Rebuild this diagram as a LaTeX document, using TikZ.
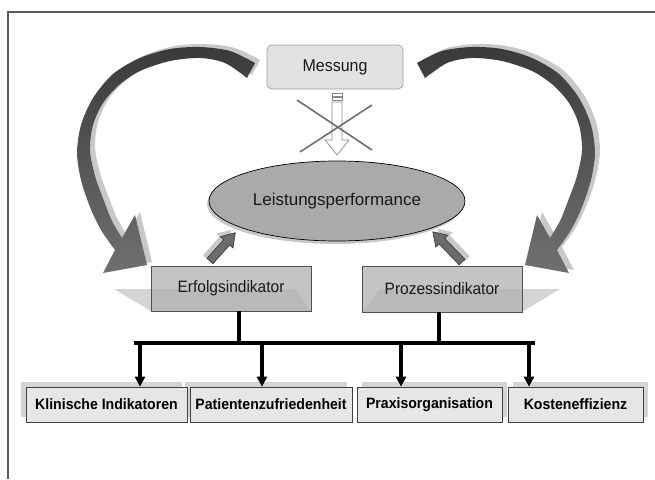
\documentclass[tikz,border=0pt]{standalone}
\usepackage{fontspec}
\setmainfont{Liberation Sans}
\newfontfamily\narrowsans[FakeStretch=0.94]{Liberation Sans}
\usetikzlibrary{shapes.geometric,arrows.meta}
\definecolor{shadowgray}{HTML}{C8C8C8}
\definecolor{boxshadow}{HTML}{D4D4D4}
\definecolor{arcdark}{HTML}{3A3A3A}
\definecolor{arcmid}{HTML}{6A6A6A}
\definecolor{arclow}{HTML}{707070}
\definecolor{framecol}{HTML}{5A5A5A}
\definecolor{messfill}{HTML}{E2E2E2}
\definecolor{messline}{HTML}{A0A0A0}
\definecolor{ellfill}{HTML}{AAAAAA}
\definecolor{indfill}{HTML}{B0B0B0}
\definecolor{indline}{HTML}{505050}
\definecolor{catfill}{HTML}{E6E6E6}
\definecolor{catline}{HTML}{404040}
\definecolor{smallarrow}{HTML}{6C6C6C}
\definecolor{crosscol}{HTML}{6E6E6E}
\definecolor{hollowline}{HTML}{8A8A8A}
\newcommand{\bigarcpath}{plot[smooth] coordinates {(255,63) (230,51) (200,47) (170,49) (140,58) (113,74) (93,98) (81,125) (77,153) (81,180) (90,207) (101,230) (115,250)} -- (103,273) -- (147,265) -- (135,215) -- (122,238) -- plot[smooth] coordinates {(122,238) (112,221) (104,201) (95,176) (90,150) (93,125) (103,103) (119,85) (140,71) (170,61) (200,58) (225,63) (247,78)} -- cycle}
\newcommand{\blockarrowpath}[1]{(0,-4) -- (#1-13,-4) -- (#1-13,-8.5) -- (#1,0) -- (#1-13,8.5) -- (#1-13,4) -- (0,4) -- cycle}
\begin{document}
\begin{tikzpicture}[x=1pt,y=-1pt,
  regtext/.style={font=\narrowsans\fontsize{16.5}{19}\selectfont, text=black!90},
  indbox/.style={draw=indline, line width=0.7pt, fill=indfill, fill opacity=0.75, text opacity=1,
    minimum width=160pt, minimum height=45pt, inner sep=0pt, regtext},
  catbox/.style={draw=catline, line width=0.7pt, fill=catfill, minimum height=35pt, inner sep=0pt,
    font=\narrowsans\bfseries\fontsize{15}{18}\selectfont},
  catshadow/.style={fill=boxshadow},
  conn/.style={line width=3.6pt, black},
  connshadow/.style={line width=3.6pt, shadowgray},
  downtip/.style={-{Triangle[length=10pt,width=10pt]}},
  hollow/.style={draw=hollowline, line width=0.7pt, fill=white},
  crossout/.style={draw=crosscol, line width=1.6pt},
  smallarr/.style={fill=smallarrow, draw=black!80, line width=0.6pt},
]
\useasboundingbox (0,0) rectangle (655,479);
% frame
\draw[framecol, line width=1.2pt] (8,479) -- (8,12) -- (655,12);

% big curved arrows: shadows
\fill[shadowgray, shift={(5,-3)}] \bigarcpath;
\begin{scope}[shift={(5,-3)}]
  \begin{scope}[xshift=672pt, xscale=-1]
    \fill[shadowgray] \bigarcpath;
  \end{scope}
\end{scope}
% big curved arrows
\shade[top color=arcdark, middle color=arcmid, bottom color=arclow] \bigarcpath;
\begin{scope}[xshift=672pt, xscale=-1]
  \shade[top color=arcdark, middle color=arcmid, bottom color=arclow] \bigarcpath;
\end{scope}

% Messung
\node[draw=messline, line width=0.7pt, fill=messfill, rounded corners=5pt,
  minimum width=136pt, minimum height=44pt, inner sep=0pt, regtext,
  font=\narrowsans\fontsize{17}{20}\selectfont] (mess) at (335,67) {Messung};

% crossed-out hollow arrow
\draw[hollow] (332,93) rectangle (342,96);
\draw[hollow] (332,97.5) rectangle (342,100.5);
\draw[hollow] (332,102) -- (342,102) -- (342,140) -- (349,140) -- (337,155) -- (325,140) -- (332,140) -- cycle;
\draw[crossout] (297,100) -- (372,150);
\draw[crossout] (372,105) -- (300,152);

% ellipse
\fill[shadowgray] (335,204) ellipse [x radius=128pt, y radius=40pt];
\node[ellipse, draw=black, line width=0.7pt, fill=ellfill, minimum width=256pt, minimum height=80pt,
  inner sep=0pt, font=\fontsize{17}{20}\selectfont, text=black!90] (lp) at (337,201) {Leistungsperformance};

% small block arrows
\begin{scope}[shift={(206,258)}, rotate=48.2]
  \fill[shadowgray] \blockarrowpath{38};
\end{scope}
\begin{scope}[shift={(210,261)}, rotate=48.2]
  \draw[smallarr] \blockarrowpath{38};
\end{scope}
\begin{scope}[shift={(467,259)}, rotate=134]
  \fill[shadowgray] \blockarrowpath{42};
\end{scope}
\begin{scope}[shift={(462,262)}, rotate=134]
  \draw[smallarr] \blockarrowpath{42};
\end{scope}

% indicator boxes with their shadows
\fill[boxshadow] (114,289) -- (295,289) -- (311,311) -- (151,311) -- cycle;
\fill[boxshadow] (380,289) -- (560,289) -- (522,312) -- (362,312) -- cycle;
\node[indbox] (erf) at (231,288.5) {Erfolgsindikator};
\node[indbox, minimum height=46pt] (proz) at (442,289) {Prozessindikator};

% category box shadows
\fill[catshadow] (21,382) rectangle (182,417);
\fill[catshadow] (185,382) rectangle (347,417);
\fill[catshadow] (362,382) rectangle (507,417);
\fill[catshadow] (513,382) rectangle (648,417);

% category boxes
\node[catbox, minimum width=161pt] (k1) at (106.5,404.5) {Klinische Indikatoren};
\node[catbox, minimum width=162pt] (k2) at (271,404.5) {Patientenzufriedenheit};
\node[catbox, minimum width=145pt] (k3) at (429.5,404.5) {Praxisorganisation};
\node[catbox, minimum width=135pt] (k4) at (575.5,404.5) {Kosteneffizienz};

% connector coordinates
\coordinate (j1) at (239,343);
\coordinate (j2) at (439,343);
\coordinate (bl) at (136,343);
\coordinate (br) at (533,343);
\coordinate (d1) at (140,343);
\coordinate (d2) at (262,343);
\coordinate (d3) at (401,343);
\coordinate (d4) at (529,343);

% connector shadows
\begin{scope}[shift={(5,2)}]
  \draw[connshadow] (erf.south -| j1) -- (j1);
  \draw[connshadow] (proz.south -| j2) -- (j2);
  \foreach \i/\k in {1/k1,2/k2,3/k3,4/k4}
    \draw[connshadow] (d\i) -- ([yshift=4pt]d\i |- \k.north);
\end{scope}

% connectors
\draw[conn] (erf.south -| j1) -- (j1);
\draw[conn] (proz.south -| j2) -- (j2);
\draw[conn, line cap=rect] (bl) -- (br);
\foreach \i/\k in {1/k1,2/k2,3/k3,4/k4}
  \draw[conn, downtip] (d\i) -- (d\i |- \k.north);
\end{tikzpicture}
\end{document}
